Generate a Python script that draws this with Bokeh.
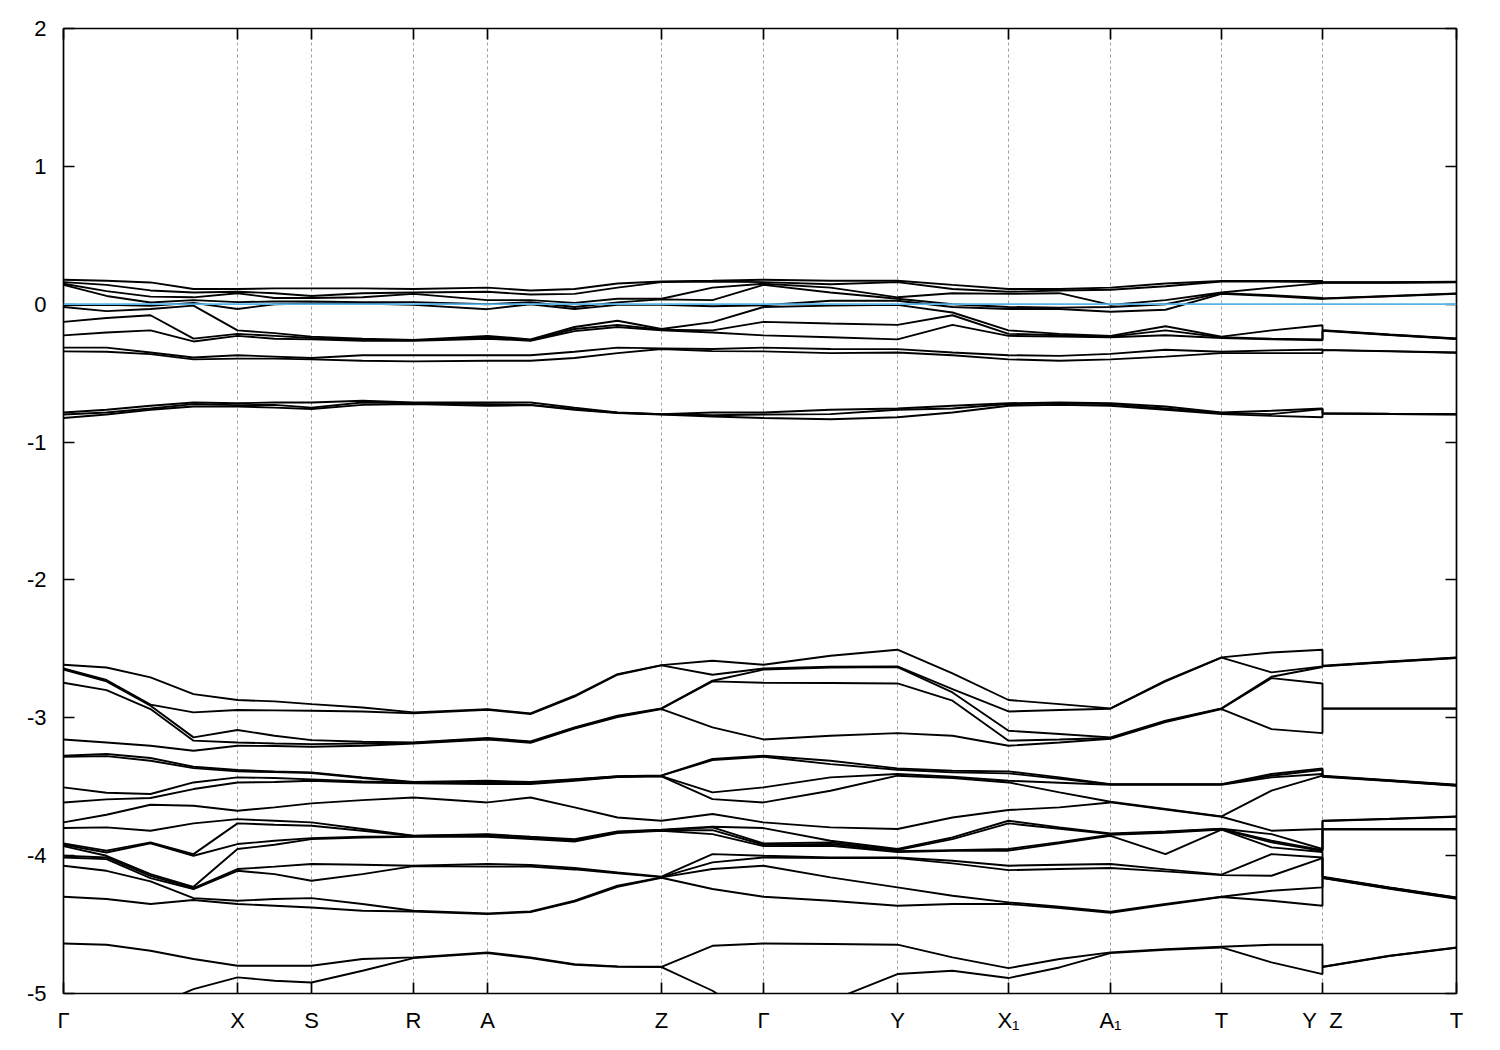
from bokeh.plotting import figure
from bokeh.models import Range1d, FixedTicker, LinearAxis, Span
from bokeh.embed import file_html
from bokeh.resources import INLINE

# k-path sample positions (path length units); Y and Z share one position (path break)
k_path = [0.0, 0.043, 0.087, 0.130, 0.174, 0.211, 0.248, 0.299, 0.350, 0.424,
          0.467, 0.511, 0.554, 0.598, 0.649, 0.700, 0.767, 0.834, 0.889, 0.945,
          0.996, 1.047, 1.102, 1.158, 1.208, 1.259, 1.259, 1.326, 1.393]

# high-symmetry points
tick_k = [0.0, 0.174, 0.248, 0.350, 0.424, 0.598, 0.700, 0.834, 0.945, 1.047, 1.158, 1.259, 1.393]
tick_names = ["Γ", "X", "S", "R", "A", "Z", "Γ", "Y", "X₁", "A₁", "T", "Y\u00a0\u00a0Z", "T"]
y_ticks = [-5, -4, -3, -2, -1, 0, 1, 2]
y_names = ["-5", "-4", "-3", "-2", "-1", "0", "1", "2"]

# bands near the Fermi level (eV), one row per k_path sample
fermi_rows = [
    [0.177, 0.160, 0.148, 0.140, -0.008, -0.020, -0.128, -0.226, -0.315, -0.342],
    [0.170, 0.140, 0.095, 0.060, -0.005, -0.050, -0.100, -0.205, -0.315, -0.345],
    [0.158, 0.100, 0.055, 0.012, -0.012, -0.035, -0.080, -0.190, -0.350, -0.362],
    [0.110, 0.085, 0.050, 0.030, 0.010, -0.010, -0.250, -0.270, -0.387, -0.400],
    [0.110, 0.090, 0.080, 0.015, -0.035, -0.190, -0.215, -0.230, -0.370, -0.395],
    [0.115, 0.080, 0.045, 0.020, 0.000, -0.210, -0.230, -0.250, -0.380, -0.395],
    [0.115, 0.060, 0.045, 0.020, 0.005, -0.235, -0.245, -0.255, -0.390, -0.400],
    [0.115, 0.080, 0.050, 0.015, 0.005, -0.250, -0.260, -0.265, -0.370, -0.410],
    [0.110, 0.085, 0.075, 0.015, -0.005, -0.260, -0.262, -0.265, -0.370, -0.415],
    [0.120, 0.090, 0.030, 0.000, -0.036, -0.230, -0.240, -0.250, -0.370, -0.410],
    [0.100, 0.070, 0.030, 0.015, 0.000, -0.255, -0.260, -0.265, -0.370, -0.410],
    [0.110, 0.075, 0.010, -0.020, -0.035, -0.165, -0.180, -0.195, -0.345, -0.390],
    [0.150, 0.120, 0.040, 0.013, -0.005, -0.120, -0.150, -0.165, -0.315, -0.355],
    [0.165, 0.160, 0.040, 0.035, -0.005, -0.180, -0.185, -0.190, -0.320, -0.325],
    [0.170, 0.165, 0.120, 0.030, -0.015, -0.130, -0.190, -0.205, -0.325, -0.340],
    [0.177, 0.160, 0.148, 0.140, -0.008, -0.020, -0.128, -0.226, -0.315, -0.342],
    [0.170, 0.145, 0.120, 0.085, 0.025, -0.010, -0.140, -0.240, -0.325, -0.355],
    [0.170, 0.160, 0.050, 0.040, 0.025, -0.005, -0.150, -0.255, -0.326, -0.350],
    [0.140, 0.110, 0.080, 0.000, -0.020, -0.060, -0.080, -0.150, -0.350, -0.370],
    [0.110, 0.090, 0.075, -0.020, -0.035, -0.190, -0.215, -0.230, -0.370, -0.400],
    [0.110, 0.100, 0.080, -0.025, -0.035, -0.215, -0.225, -0.235, -0.375, -0.410],
    [0.120, 0.105, -0.005, -0.020, -0.055, -0.230, -0.235, -0.240, -0.360, -0.400],
    [0.150, 0.130, 0.030, 0.000, -0.040, -0.160, -0.190, -0.225, -0.330, -0.380],
    [0.168, 0.165, 0.085, 0.080, 0.075, -0.235, -0.240, -0.245, -0.345, -0.355],
    [0.168, 0.165, 0.120, 0.065, 0.060, -0.190, -0.250, -0.255, -0.335, -0.355],
    [0.168, 0.160, 0.153, 0.045, 0.038, -0.153, -0.255, -0.262, -0.328, -0.355],
    [0.160, 0.158, 0.155, 0.042, 0.040, -0.188, -0.190, -0.192, -0.331, -0.333],
    [0.160, 0.158, 0.156, 0.060, 0.058, -0.220, -0.222, -0.224, -0.340, -0.342],
    [0.163, 0.161, 0.159, 0.078, 0.076, -0.249, -0.251, -0.253, -0.350, -0.352],
]

# flat bands near -0.8 eV
flat_rows = [
    [-0.785, -0.800, -0.825], [-0.766, -0.785, -0.800], [-0.737, -0.756, -0.766],
    [-0.713, -0.725, -0.742], [-0.718, -0.732, -0.742], [-0.713, -0.730, -0.750],
    [-0.713, -0.750, -0.760], [-0.700, -0.713, -0.730], [-0.713, -0.718, -0.725],
    [-0.713, -0.725, -0.737], [-0.713, -0.730, -0.732], [-0.750, -0.760, -0.766],
    [-0.785, -0.787, -0.789], [-0.797, -0.798, -0.800], [-0.785, -0.805, -0.814],
    [-0.785, -0.800, -0.825], [-0.766, -0.797, -0.834], [-0.756, -0.766, -0.820],
    [-0.737, -0.756, -0.785], [-0.718, -0.725, -0.737], [-0.713, -0.720, -0.730],
    [-0.718, -0.725, -0.737], [-0.742, -0.756, -0.766], [-0.785, -0.790, -0.797],
    [-0.773, -0.797, -0.810], [-0.756, -0.761, -0.820], [-0.790, -0.792, -0.794],
    [-0.795, -0.796, -0.797], [-0.797, -0.798, -0.800],
]

# deeper bands (-2.5 .. -5 eV)
deep_rows = [
    [-2.615, -2.642, -2.651, -2.746, -3.157, -3.275, -3.283, -3.505, -3.614, -3.759, -3.800, -3.911, -3.921, -3.931, -4.001, -4.013, -4.073, -4.298, -4.637, -5.222],
    [-2.635, -2.726, -2.736, -2.799, -3.179, -3.263, -3.278, -3.544, -3.592, -3.703, -3.795, -3.964, -3.977, -4.001, -4.013, -4.025, -4.110, -4.315, -4.646, -5.173],
    [-2.707, -2.905, -2.913, -2.937, -3.203, -3.292, -3.312, -3.553, -3.582, -3.631, -3.819, -3.904, -3.911, -4.134, -4.146, -4.163, -4.187, -4.351, -4.690, -5.101],
    [-2.828, -2.961, -3.142, -3.166, -3.239, -3.355, -3.365, -3.469, -3.517, -3.638, -3.766, -3.989, -4.001, -4.226, -4.235, -4.242, -4.308, -4.322, -4.750, -4.968],
    [-2.871, -2.944, -3.089, -3.179, -3.203, -3.379, -3.389, -3.432, -3.469, -3.674, -3.735, -3.766, -3.916, -3.952, -4.097, -4.110, -4.327, -4.351, -4.799, -4.883],
    [-2.881, -2.946, -3.130, -3.186, -3.205, -3.389, -3.394, -3.437, -3.466, -3.650, -3.747, -3.776, -3.892, -3.921, -4.080, -4.134, -4.315, -4.363, -4.799, -4.907],
    [-2.901, -2.949, -3.162, -3.191, -3.210, -3.396, -3.401, -3.447, -3.457, -3.621, -3.759, -3.783, -3.873, -3.880, -4.061, -4.182, -4.308, -4.376, -4.799, -4.920],
    [-2.925, -2.954, -3.174, -3.186, -3.203, -3.432, -3.437, -3.462, -3.469, -3.597, -3.807, -3.819, -3.863, -3.868, -4.066, -4.134, -4.351, -4.400, -4.750, -4.835],
    [-2.961, -2.968, -3.179, -3.181, -3.186, -3.466, -3.469, -3.471, -3.476, -3.578, -3.856, -3.858, -3.860, -3.863, -4.073, -4.076, -4.400, -4.405, -4.738, -4.743],
    [-2.937, -2.942, -3.147, -3.152, -3.157, -3.457, -3.466, -3.476, -3.481, -3.614, -3.844, -3.848, -3.856, -3.863, -4.061, -4.080, -4.419, -4.424, -4.702, -4.707],
    [-2.968, -2.973, -3.171, -3.176, -3.181, -3.466, -3.471, -3.476, -3.481, -3.578, -3.863, -3.868, -3.873, -3.880, -4.068, -4.080, -4.405, -4.409, -4.738, -4.743],
    [-2.840, -2.847, -3.070, -3.075, -3.079, -3.445, -3.447, -3.452, -3.457, -3.650, -3.880, -3.887, -3.892, -3.897, -4.090, -4.100, -4.327, -4.334, -4.787, -4.791],
    [-2.683, -2.688, -2.985, -2.990, -2.995, -3.423, -3.425, -3.428, -3.430, -3.723, -3.824, -3.829, -3.831, -3.836, -4.122, -4.129, -4.218, -4.226, -4.803, -4.806],
    [-2.618, -2.620, -2.932, -2.934, -2.937, -3.418, -3.420, -3.423, -3.425, -3.747, -3.812, -3.815, -3.817, -3.819, -4.153, -4.156, -4.158, -4.160, -4.806, -4.808],
    [-2.586, -2.688, -2.731, -2.736, -3.070, -3.299, -3.307, -3.541, -3.590, -3.698, -3.790, -3.795, -3.815, -3.844, -3.989, -4.049, -4.097, -4.242, -4.654, -4.980],
    [-2.615, -2.642, -2.651, -2.746, -3.157, -3.275, -3.283, -3.505, -3.614, -3.759, -3.800, -3.911, -3.921, -3.931, -4.001, -4.013, -4.073, -4.298, -4.637, -5.222],
    [-2.550, -2.630, -2.635, -2.748, -3.130, -3.312, -3.336, -3.432, -3.529, -3.795, -3.892, -3.904, -3.916, -3.928, -4.013, -4.018, -4.158, -4.327, -4.641, -5.053],
    [-2.506, -2.627, -2.632, -2.751, -3.111, -3.367, -3.377, -3.408, -3.420, -3.807, -3.952, -3.960, -3.967, -3.974, -4.013, -4.018, -4.230, -4.363, -4.646, -4.859],
    [-2.678, -2.792, -2.816, -2.876, -3.130, -3.384, -3.396, -3.428, -3.437, -3.723, -3.868, -3.880, -3.960, -3.964, -4.037, -4.056, -4.291, -4.351, -4.738, -4.835],
    [-2.871, -2.954, -3.094, -3.166, -3.203, -3.389, -3.403, -3.457, -3.469, -3.669, -3.747, -3.766, -3.952, -3.964, -4.073, -4.105, -4.339, -4.351, -4.816, -4.888],
    [-2.901, -2.944, -3.118, -3.157, -3.179, -3.432, -3.442, -3.471, -3.541, -3.650, -3.795, -3.805, -3.902, -3.911, -4.066, -4.097, -4.371, -4.380, -4.750, -4.811],
    [-2.932, -2.934, -3.142, -3.147, -3.152, -3.481, -3.483, -3.486, -3.609, -3.614, -3.839, -3.844, -3.848, -3.856, -4.061, -4.090, -4.407, -4.414, -4.702, -4.707],
    [-2.731, -2.736, -3.021, -3.026, -3.031, -3.481, -3.483, -3.486, -3.662, -3.665, -3.824, -3.829, -3.834, -3.989, -4.100, -4.114, -4.351, -4.356, -4.678, -4.683],
    [-2.562, -2.564, -2.932, -2.934, -2.937, -3.481, -3.483, -3.486, -3.715, -3.718, -3.805, -3.807, -3.810, -3.812, -4.138, -4.141, -4.298, -4.300, -4.661, -4.666],
    [-2.526, -2.671, -2.702, -2.712, -3.082, -3.408, -3.420, -3.432, -3.529, -3.819, -3.844, -3.892, -3.904, -3.940, -3.989, -4.146, -4.255, -4.327, -4.646, -4.774],
    [-2.506, -2.627, -2.632, -2.751, -3.111, -3.367, -3.377, -3.408, -3.420, -3.807, -3.952, -3.960, -3.967, -3.974, -4.013, -4.018, -4.230, -4.363, -4.646, -4.859],
    [-2.622, -2.625, -2.627, -2.932, -2.934, -3.420, -3.423, -3.425, -3.428, -3.747, -3.749, -3.807, -3.810, -4.153, -4.156, -4.158, -4.160, -4.163, -4.806, -4.808],
    [-2.591, -2.593, -2.596, -2.932, -2.934, -3.452, -3.454, -3.457, -3.459, -3.732, -3.735, -3.807, -3.810, -4.230, -4.233, -4.235, -4.237, -4.240, -4.726, -4.728],
    [-2.562, -2.564, -2.567, -2.932, -2.934, -3.486, -3.488, -3.491, -3.493, -3.715, -3.718, -3.807, -3.810, -4.303, -4.305, -4.308, -4.310, -4.313, -4.666, -4.668],
]

FONT = "Liberation Sans"

p = figure(width=1486, height=1038,
           x_range=Range1d(0, 1.393), y_range=Range1d(-5, 2),
           output_backend="svg", toolbar_location=None,
           min_border_left=63, min_border_right=30,
           min_border_top=28, min_border_bottom=45)
p.background_fill_color = "white"
p.border_fill_color = "white"
p.outline_line_color = "black"
p.outline_line_width = 1.7

p.ygrid.visible = False
p.xgrid.ticker = FixedTicker(ticks=tick_k)
p.xgrid.grid_line_color = "#a0a0a0"
p.xgrid.grid_line_width = 1
p.xgrid.grid_line_dash = "3 3"

for rows in (fermi_rows, flat_rows, deep_rows):
    bands = [list(b) for b in zip(*rows)]
    p.multi_line([k_path] * len(bands), bands, line_color="black", line_width=1.9)

p.add_layout(Span(location=0, dimension="width", line_color="#56b4e9", line_width=1.8))

def style_axis(ax, ticks):
    ax.ticker = FixedTicker(ticks=ticks)
    ax.axis_line_color = None
    ax.major_tick_in = 11
    ax.major_tick_out = 0
    ax.minor_tick_line_color = None
    ax.major_tick_line_color = "black"
    ax.major_tick_line_width = 1.7
    ax.major_label_text_font = FONT
    ax.major_label_text_font_size = "22px"
    ax.major_label_text_color = "black"

# bottom axis with k-point labels
xa = p.xaxis[0]
style_axis(xa, tick_k)
xa.major_label_standoff = 14
xa.major_label_overrides = dict(zip(tick_k, tick_names))

# left axis (plain hyphen minus signs as in the original)
ya = p.yaxis[0]
style_axis(ya, y_ticks)
ya.major_label_standoff = 17
ya.major_label_overrides = dict(zip(y_ticks, y_names))

# mirror axes (ticks only)
top = LinearAxis()
style_axis(top, tick_k)
top.major_label_overrides = {k: "" for k in tick_k}
top.major_label_standoff = 0
p.add_layout(top, "above")

right = LinearAxis()
style_axis(right, y_ticks)
right.major_label_overrides = {v: "" for v in y_ticks}
right.major_label_standoff = 0
p.add_layout(right, "right")

open("out.html", "w").write(file_html(p, INLINE))
